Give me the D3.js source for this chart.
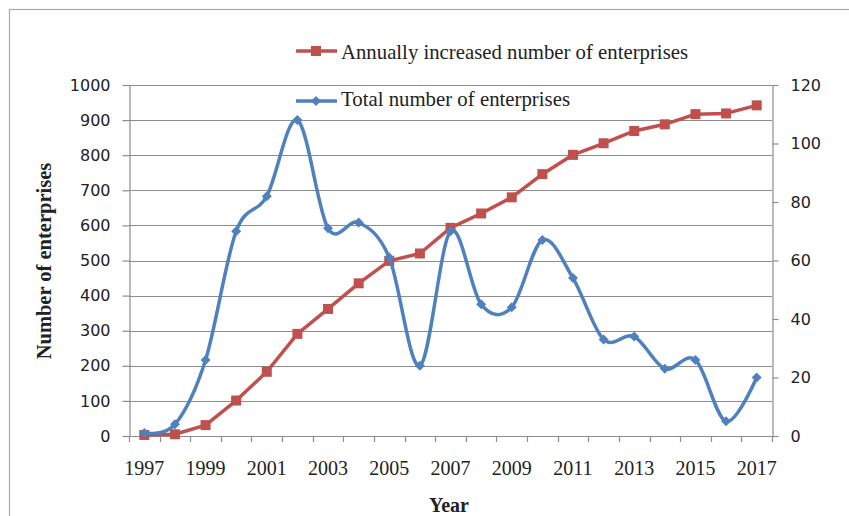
<!DOCTYPE html>
<html>
<head>
<meta charset="utf-8">
<script src="https://cdn.jsdelivr.net/npm/d3@7/dist/d3.min.js"></script>
<style>
html,body{margin:0;padding:0;background:#fff;}
svg{display:block;}
</style>
</head>
<body>
<svg id="chart" width="849" height="516"></svg>
<script>
// ---- data ----
const years = ["1997","1998","1999","2000","2001","2002","2003","2004","2005","2006","2007",
               "2008","2009","2010","2011","2012","2013","2014","2015","2016","2017"];
// red series (left axis)
const annuallyIncreased = [3,5,31,101,183,291,362,435,499,520,593,634,680,746,801,834,869,888,917,919,942];
// blue series (right axis)
const totalNumber = [1,4,26,70,82,108,71,73,61,24,70,45,44,67,54,33,34,23,26,5,20];
const xTickLabels = ["1997","1999","2001","2003","2005","2007","2009","2011","2013","2015","2017"];
const leftTicks = [0,100,200,300,400,500,600,700,800,900,1000];
const rightTicks = [0,20,40,60,80,100,120];
const seriesNames = ["Annually increased number of enterprises","Total number of enterprises"];

const RED = "#C0504D", BLUE = "#4F81BD", GRID = "#8c8c8c", TXT = "#222";

const svg = d3.select("#chart");
const L = 129, R = 772, T = 85, B = 436;

// outer chart frame
svg.append("rect").attr("x",9.5).attr("y",9.5).attr("width",900).attr("height",600)
  .attr("fill","none").attr("stroke","#aaa").attr("stroke-width",1.2);

const x = d3.scaleBand().domain(years).range([L,R]).padding(0);
const yL = d3.scaleLinear().domain([0,1000]).range([B,T]);
const yR = d3.scaleLinear().domain([0,120]).range([B,T]);
const cx = d => x(d) + x.bandwidth()/2;

// gridlines
svg.append("g").selectAll("line").data(leftTicks.filter(v=>v>0)).join("line")
  .attr("x1",L).attr("x2",R)
  .attr("y1",d=>Math.round(yL(d))+0.5).attr("y2",d=>Math.round(yL(d))+0.5)
  .attr("stroke",GRID).attr("stroke-width",1.2);

// left axis
const gl = svg.append("g").attr("transform",`translate(${L+0.5},0)`)
  .call(d3.axisLeft(yL).tickValues(leftTicks).tickFormat(d3.format("d"))
        .tickSize(7).tickSizeOuter(0).tickPadding(12));
gl.select(".domain").attr("stroke",GRID).attr("stroke-width",1.2);
gl.selectAll(".tick line").attr("stroke",GRID).attr("stroke-width",1.2);
gl.selectAll(".tick text").attr("font-family","'DejaVu Sans', Verdana, sans-serif")
  .attr("font-size",16).attr("fill",TXT);

// right axis
const gr = svg.append("g").attr("transform",`translate(${R+0.5},0)`)
  .call(d3.axisRight(yR).tickValues(rightTicks).tickFormat(d3.format("d"))
        .tickSize(6).tickSizeOuter(0).tickPadding(12));
gr.select(".domain").attr("stroke",GRID).attr("stroke-width",1.2);
gr.selectAll(".tick line").attr("stroke",GRID).attr("stroke-width",1.2);
gr.selectAll(".tick text").attr("font-family","'DejaVu Sans', Verdana, sans-serif")
  .attr("font-size",16).attr("fill",TXT);

// bottom axis: line, boundary ticks, labels
const gb = svg.append("g");
gb.append("line").attr("x1",L).attr("x2",R).attr("y1",B+0.5).attr("y2",B+0.5)
  .attr("stroke",GRID).attr("stroke-width",1.2);
const bounds = years.map(d=>x(d)).concat([x(years[years.length-1])+x.bandwidth()]);
gb.selectAll("line.tk").data(bounds).join("line").attr("class","tk")
  .attr("x1",d=>Math.round(d)+0.5).attr("x2",d=>Math.round(d)+0.5)
  .attr("y1",B).attr("y2",B+6).attr("stroke",GRID).attr("stroke-width",1.2);
gb.selectAll("text").data(xTickLabels).join("text")
  .attr("x",d=>cx(d)).attr("y",475).attr("text-anchor","middle")
  .attr("font-family","'Liberation Serif','Times New Roman',serif").attr("font-size",20)
  .attr("fill",TXT).text(d=>d);

// axis titles
svg.append("text").attr("x",449).attr("y",512).attr("text-anchor","middle")
  .attr("font-family","'Liberation Serif','Times New Roman',serif").attr("font-weight","bold")
  .attr("font-size",20).attr("fill",TXT).text("Year");
svg.append("text").attr("transform","translate(51,261) rotate(-90)").attr("text-anchor","middle")
  .attr("font-family","'Liberation Serif','Times New Roman',serif").attr("font-weight","bold")
  .attr("font-size",20.5).attr("fill",TXT).text("Number of enterprises");

// red series (straight)
const redLine = d3.line().x((d,i)=>cx(years[i])).y(d=>yL(d));
svg.append("path").datum(annuallyIncreased).attr("d",redLine)
  .attr("fill","none").attr("stroke",RED).attr("stroke-width",3.5).attr("stroke-linejoin","round");
svg.append("g").selectAll("rect").data(annuallyIncreased).join("rect")
  .attr("x",(d,i)=>cx(years[i])-5).attr("y",d=>yL(d)-5).attr("width",10).attr("height",10)
  .attr("fill",RED);

// blue series (smoothed)
const blueLine = d3.line().x((d,i)=>cx(years[i])).y(d=>yR(d)).curve(d3.curveCatmullRom.alpha(0));
svg.append("path").datum(totalNumber).attr("d",blueLine)
  .attr("fill","none").attr("stroke",BLUE).attr("stroke-width",3.5).attr("stroke-linejoin","round");
svg.append("g").selectAll("path").data(totalNumber).join("path")
  .attr("d",d3.symbol().type(d3.symbolSquare).size(50))
  .attr("transform",(d,i)=>`translate(${cx(years[i])},${yR(d)}) rotate(45)`)
  .attr("fill",BLUE);

// legend
const leg = svg.append("g");
const legItems = [
  {name:seriesNames[0], color:RED, y:51, ty:59, w:347, marker:"square"},
  {name:seriesNames[1], color:BLUE, y:101, ty:106, w:229, marker:"diamond"}
];
legItems.forEach(it=>{
  leg.append("line").attr("x1",296).attr("x2",337).attr("y1",it.y).attr("y2",it.y)
    .attr("stroke",it.color).attr("stroke-width",3.5);
  if(it.marker==="square"){
    leg.append("rect").attr("x",311).attr("y",it.y-5).attr("width",10).attr("height",10).attr("fill",it.color);
  } else {
    leg.append("path").attr("d",d3.symbol().type(d3.symbolSquare).size(50)())
      .attr("transform",`translate(316,${it.y}) rotate(45)`).attr("fill",it.color);
  }
  leg.append("text").attr("x",341).attr("y",it.ty)
    .attr("font-family","'Liberation Serif','Times New Roman',serif").attr("font-size",21)
    .attr("fill",TXT).attr("textLength",it.w).attr("lengthAdjust","spacingAndGlyphs").text(it.name);
});
</script>
</body>
</html>
